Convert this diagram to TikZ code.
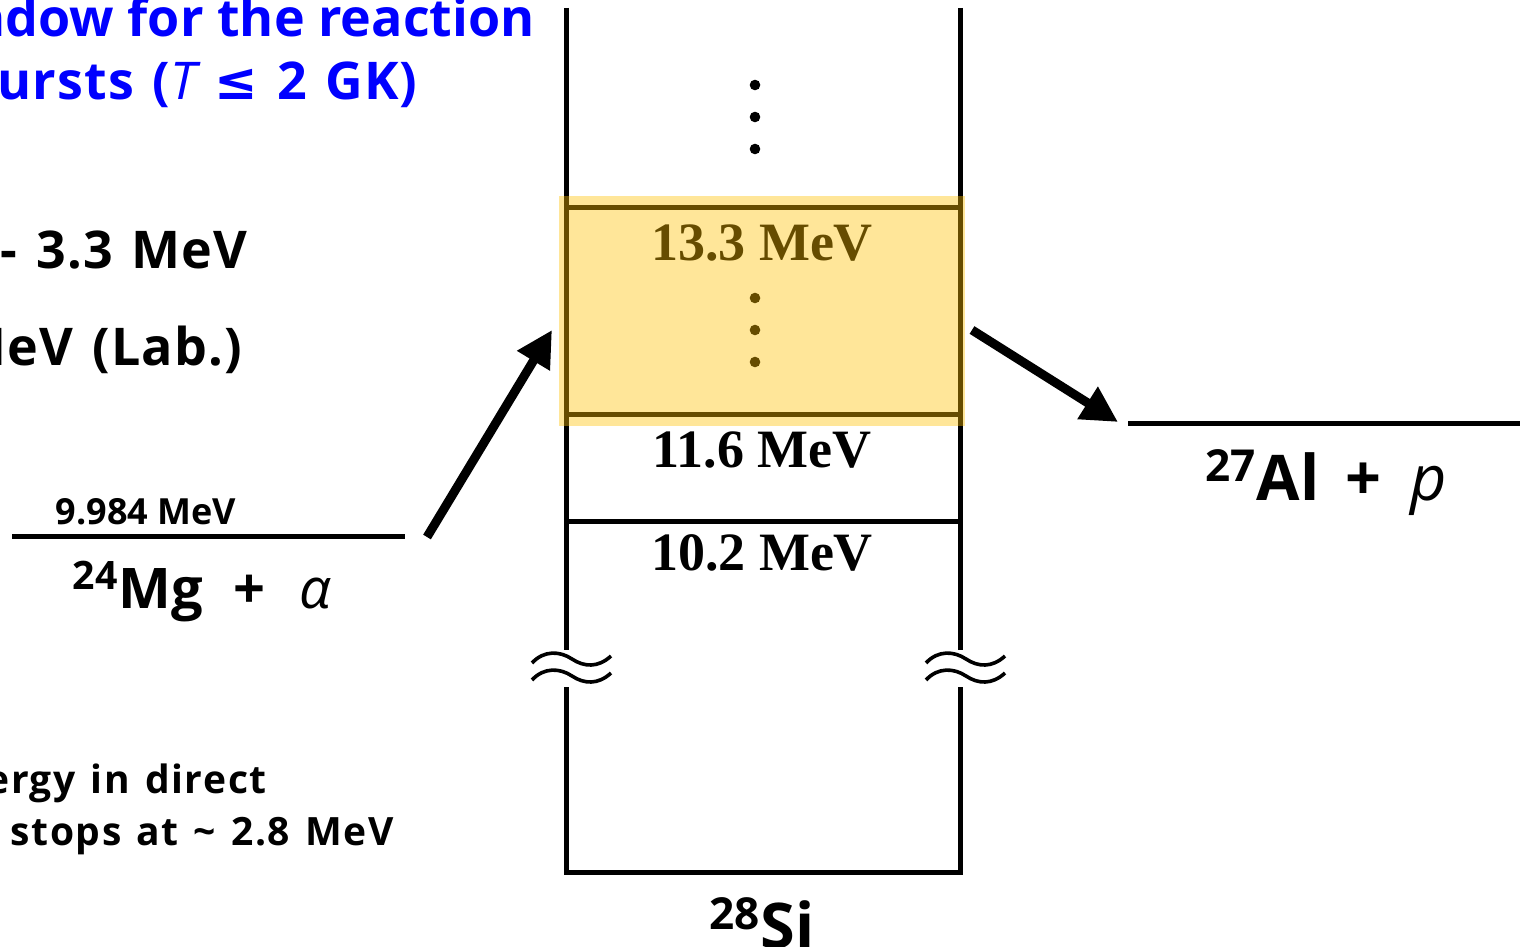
\documentclass[tikz,border=0pt]{standalone}
\usepackage{fontspec}
\setmainfont{Liberation Serif}
\newfontfamily\gothic{Open Sans}[UprightFont=*, BoldFont=* Bold,
  ItalicFont=* Italic, BoldItalicFont=* Bold Italic]
\newfontfamily\gothicwide{Open Sans}[UprightFont=*, BoldFont=* Bold,
  ItalicFont=* Italic, BoldItalicFont=* Bold Italic,
  LetterSpace=2.5, WordSpace=1.25]
\newfontfamily\gothicnote{Open Sans}[UprightFont=*, BoldFont=* Bold,
  ItalicFont=* Italic, BoldItalicFont=* Bold Italic,
  LetterSpace=4, WordSpace=1.3]
\newfontfamily\symfont{DejaVu Sans}
\usepackage{tikz}
\usetikzlibrary{arrows.meta, positioning, calc}
\definecolor{hlyellow}{HTML}{FFC000}
\definecolor{titleblue}{HTML}{0000FF}
\tikzset{
  levelline/.style={line width=2.5pt},
  breakwave/.style={line width=1.8pt},
  energylabel/.style={
    font=\bfseries\fontsize{27}{30}\selectfont, anchor=base, inner sep=0pt
  },
  reaclabel/.style={
    font=\gothic\bfseries\fontsize{31.5}{34}\selectfont, anchor=base, inner sep=0pt
  },
  notelabel/.style={
    font=\gothicwide\bfseries\fontsize{26}{30}\selectfont, anchor=base east, inner sep=0pt
  },
  smallnote/.style={
    notelabel, font=\gothicnote\bfseries\fontsize{19.5}{22}\selectfont
  },
  bigarrow/.style={
    -{Triangle[length=18pt, width=18pt]}, line width=4.5pt
  },
}

\begin{document}
\begin{tikzpicture}[x=0.5pt, y=-0.5pt]
  \useasboundingbox (0,0) rectangle (1520,947);
  \clip (0,0) rectangle (1520,947);

  % Notes on the left
  \node[notelabel, text=titleblue, font=\gothic\bfseries\fontsize{26}{30}\selectfont]
    (title1) at (535,37) {window for the reaction};
  \node[notelabel, text=titleblue] (title2) at (418,100)
    {bursts ({\mdseries\itshape T} {\symfont ≤} 2 GK)};
  \node[notelabel] (erange) at (248,268) {- 3.3 MeV};
  \node[notelabel] (elab) at (243,365) {MeV (Lab.)};
  \node[smallnote] (direct1) at (267,793) {energy in direct};
  \node[smallnote] (direct2) at (394,845) {stops at \textasciitilde{} 2.8 MeV};

  % Entrance channel
  \draw[levelline] (12,536) coordinate (mgL) -- (405,536) coordinate (mgR);
  \node[reaclabel, font=\gothic\bfseries\fontsize{18}{20}\selectfont]
    (mgE) at (146,524) {9.984 MeV};
  \node[reaclabel, font=\gothic\bfseries\fontsize{28}{30}\selectfont]
    (mg) at (202,608)
    {\textsuperscript{24}Mg\hspace{0.55em}+\hspace{0.6em}{\mdseries\itshape α}};

  % Compound nucleus
  \draw[levelline] (566,8) -- (566,650);
  \draw[levelline] (960,8) -- (960,650);
  \draw[levelline] (566,687) -- (566,872) -- (960,872) -- (960,687);
  \foreach \x in {566,960}
    \foreach \d in {0,17}
      \draw[breakwave] (\x-34,663+\d) .. controls (\x-22,650+\d) and (\x-6,651+\d)
        .. (\x+6,659+\d) .. controls (\x+18,667+\d) and (\x+32,668+\d) .. (\x+45,656+\d);
  \draw[levelline] (566,207) -- (960,207);
  \draw[levelline] (566,414) coordinate (boxL) -- (960,414) coordinate (boxR);
  \draw[levelline] (566,521) -- (960,521);
  \foreach \y in {85,117,149,298,330,362}
    \fill (755,\y) circle (2.65pt);
  \node[energylabel] (e133) at (762,260) {13.3 MeV};
  \node[energylabel] (e116) at (762,467) {11.6 MeV};
  \node[energylabel] (e102) at (762,570) {10.2 MeV};
  \node[reaclabel] (si) at (762,948) {\textsuperscript{28}Si};

  % Gamow window
  \fill[hlyellow, fill opacity=0.4] (559,196) rectangle (965,426);

  % Exit channel
  \draw[levelline] (1128,423) coordinate (alL) -- (1520,423) coordinate (alR);
  \node[reaclabel] (al) at (1326,500)
    {\textsuperscript{27}Al\hspace{0.42em}+\hspace{0.45em}{\mdseries\itshape p}};

  % Arrows
  \coordinate (inTail) at (427,537);
  \coordinate (inTip) at (552,330);
  \coordinate (outTail) at (972,330);
  \coordinate (outTip) at (1118,422);
  \draw[bigarrow] (inTail) -- (inTip);
  \draw[bigarrow] (outTail) -- (outTip);
\end{tikzpicture}
\end{document}
